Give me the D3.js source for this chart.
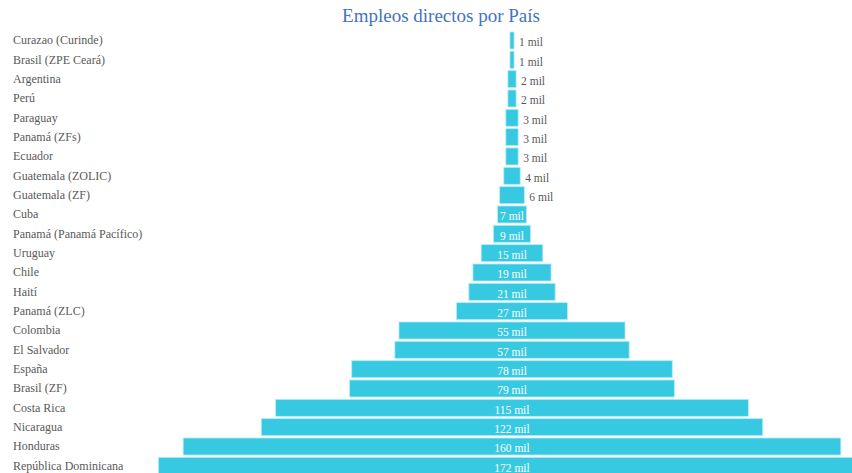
<!DOCTYPE html>
<html lang="es">
<head>
    <meta charset="UTF-8">
    <title>Empleos directos por País</title>
    <style>
        body{ margin:0; background:#fff; overflow:hidden;}
        .cat{ font-family:"Liberation Serif", serif; font-size:12px; fill:#595959;}
        .val{ font-family:"Liberation Serif", serif; font-size:11.5px;}
        .title{ font-family:"Liberation Serif", serif; font-size:19px; fill:#4472c4;}
    </style>
</head>
<body>

<script src="https://d3js.org/d3.v7.min.js"></script>
<script>

var paises = ["Curazao (Curinde)", "Brasil (ZPE Ceará)", "Argentina", "Perú", "Paraguay",
    "Panamá (ZFs)", "Ecuador", "Guatemala (ZOLIC)", "Guatemala (ZF)", "Cuba",
    "Panamá (Panamá Pacífico)", "Uruguay", "Chile", "Haití", "Panamá (ZLC)",
    "Colombia", "El Salvador", "España", "Brasil (ZF)", "Costa Rica",
    "Nicaragua", "Honduras", "República Dominicana"];

// miles de empleos
var empleos = [1, 1, 2, 2, 3, 3, 3, 4, 6, 7, 9, 15, 19, 21, 27, 55, 57, 78, 79, 115, 122, 160, 172];

var W = 852, H = 473;
var centro = 512;

var svg = d3.select("body").append("svg")
        .attr("width", W)
        .attr("height", H);

svg.append("text").attr("class", "title")
    .attr("x", 441).attr("y", 22)
    .attr("text-anchor", "middle")
    .text("Empleos directos por País");

//scales
var y = d3.scaleBand().domain(paises).range([30.8, 475.5]).paddingInner(0.12).paddingOuter(0.06);
var w = d3.scaleLinear().domain([0, 172]).range([0, 707]);

var filas = svg.selectAll(".fila")
    .data(paises)
    .enter().append("g")
    .attr("transform", function(d){ return "translate(0," + y(d) + ")"; });

filas.append("rect")
    .attr("x", function(d, i){ return centro - w(empleos[i]) / 2; })
    .attr("width", function(d, i){ return w(empleos[i]); })
    .attr("height", y.bandwidth())
    .attr("fill", "#37c9e1")
    .attr("stroke", "#b9ecf5")
    .attr("stroke-width", 0.8);

filas.append("text").attr("class", "cat")
    .attr("x", 13)
    .attr("y", y.bandwidth() / 2 + 4)
    .text(function(d){ return d; });

filas.append("text").attr("class", "val")
    .attr("x", function(d, i){
        return empleos[i] >= 7 ? centro : centro + w(empleos[i]) / 2 + 5;
    })
    .attr("y", y.bandwidth() / 2 + 6)
    .attr("text-anchor", function(d, i){ return empleos[i] >= 7 ? "middle" : "start"; })
    .attr("fill", function(d, i){ return empleos[i] >= 7 ? "#ffffff" : "#595959"; })
    .text(function(d, i){ return empleos[i] + " mil"; });

</script>
</body>
</html>
